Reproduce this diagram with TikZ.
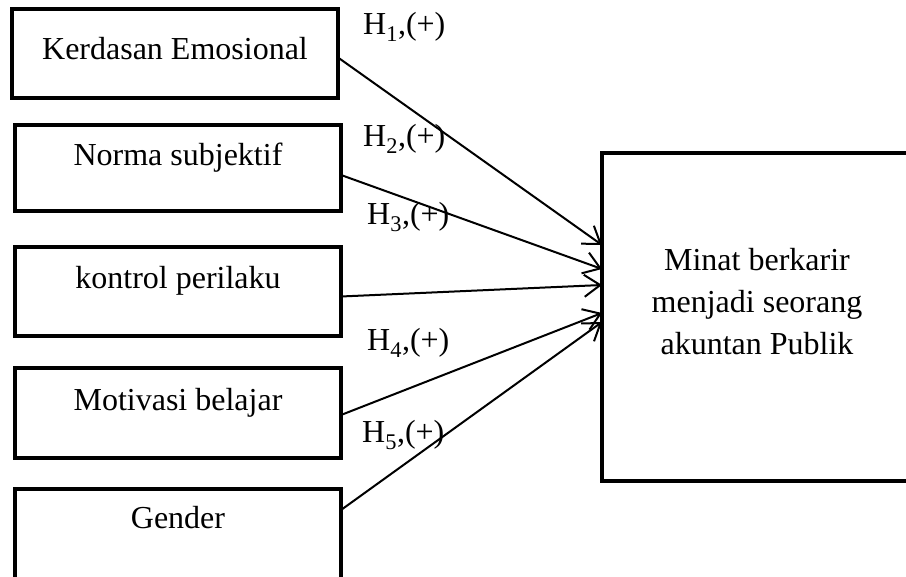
\documentclass[tikz,border=0pt]{standalone}
\usepackage{fontspec}
\setmainfont{Liberation Serif}
\usetikzlibrary{arrows.meta}
\begin{document}
\begin{tikzpicture}[x=1pt,y=-1pt,
  box/.style={draw,line width=3.8pt,rectangle,inner sep=0pt,outer sep=0pt,anchor=north west},
  txt/.style={inner sep=0pt,anchor=base,font=\fontsize{32}{42}\selectfont},
  hlab/.style={inner sep=0pt,anchor=base west,font=\fontsize{32}{41}\selectfont},
  conn/.style={line width=2pt,-{Straight Barb[length=16pt,width=22pt,line width=2pt]}}
]
\useasboundingbox (0,0) rectangle (906,577);
\node[box,minimum width=326pt,minimum height=89pt] (b1) at (12,9) {};
\node[box,minimum width=326pt,minimum height=86pt] (b2) at (15,125) {};
\node[box,minimum width=326pt,minimum height=89pt] (b3) at (15,247) {};
\node[box,minimum width=326pt,minimum height=90pt] (b4) at (15,368) {};
\node[box,minimum width=326pt,minimum height=130pt] (b5) at (15,489) {};
\node[box,minimum width=400pt,minimum height=328pt] (rb) at (602,153) {};

\node[txt] (t1) at (175,60) {Kerdasan Emosional};
\node[txt] (t2) at (178,166) {Norma subjektif};
\node[txt] (t3) at (178,289) {kontrol perilaku};
\node[txt] (t4) at (178,411) {Motivasi belajar};
\node[txt] (t5) at (178,529) {Gender};
\node[txt,align=center] (tr) at (757,355) {Minat berkarir\\menjadi seorang\\akuntan Publik};

\node[hlab] (h1) at (363,35) {H\textsubscript{1},(+)};
\node[hlab] (h2) at (363,147) {H\textsubscript{2},(+)};
\node[hlab] (h3) at (367,225) {H\textsubscript{3},(+)};
\node[hlab] (h4) at (367,351) {H\textsubscript{4},(+)};
\node[hlab] (h5) at (362,443) {H\textsubscript{5},(+)};

\draw[conn] ([yshift=-4pt]b1.east) -- ([yshift=-92pt]rb.north west);
\draw[conn] ([yshift=-7pt]b2.east) -- ([yshift=-116pt]rb.north west);
\draw[conn] ([yshift=-5pt]b3.east) -- ([yshift=-132pt]rb.north west);
\draw[conn] ([yshift=-2pt]b4.east) -- ([yshift=-160pt]rb.north west);
\draw[conn] ([yshift=-21pt]b5.north east) -- ([yshift=-169pt]rb.north west);
\end{tikzpicture}
\end{document}
